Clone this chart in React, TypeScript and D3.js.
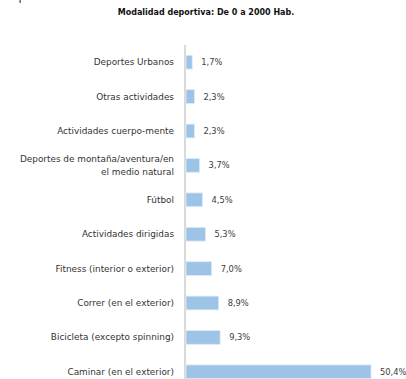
import React from "react";
import * as d3 from "d3";

const categories: string[][] = [
  ["Deportes Urbanos"],
  ["Otras actividades"],
  ["Actividades cuerpo-mente"],
  ["Deportes de montaña/aventura/en", "el medio natural"],
  ["Fútbol"],
  ["Actividades dirigidas"],
  ["Fitness (interior o exterior)"],
  ["Correr (en el exterior)"],
  ["Bicicleta (excepto spinning)"],
  ["Caminar (en el exterior)"],
];
const values: number[] = [1.7, 2.3, 2.3, 3.7, 4.5, 5.3, 7.0, 8.9, 9.3, 50.4];
const valueLabels: string[] = ["1,7%", "2,3%", "2,3%", "3,7%", "4,5%", "5,3%", "7,0%", "8,9%", "9,3%", "50,4%"];
const title = "Modalidad deportiva: De 0 a 2000 Hab.";

export default function App() {
  const W = 406, H = 379;
  const x0 = 185;
  const x = d3.scaleLinear().domain([0, 50.4]).range([x0, 370]);
  const idx = d3.range(values.length).map(String);
  const y = d3.scaleBand().domain(idx).range([45, 389]).paddingInner(0.6).paddingOuter(0.3);
  const font = "'DejaVu Sans', sans-serif";
  return (
    <svg width={W} height={H} style={{ position: "absolute", left: 0, top: 0, background: "#fff" }}>
      <rect x={19.5} y={0} width={1.2} height={3} fill="#444" />
      <text x={206} y={15} textAnchor="middle" fontSize={8} fontWeight="bold" fontFamily={font} fill="#111">{title}</text>
      <line x1={x0} x2={x0} y1={45} y2={H} stroke="#d9d9d9" strokeWidth={2} />
      {values.map((v, i) => {
        const yc = (y(String(i)) as number) + y.bandwidth() / 2;
        const lines = categories[i];
        const lh = 13;
        return (
          <g key={i}>
            <rect x={x0 + 1} y={y(String(i))} width={x(v) - x0} height={y.bandwidth()} fill="#9dc3e6" stroke="#deebf7" strokeWidth={0.8} />
            <text x={x(v) + 10} y={yc + 3} fontSize={8.3} fontFamily={font} fill="#404040">{valueLabels[i]}</text>
            {lines.map((l, j) => (
              <text key={j} x={174} y={yc + 3 + (j - (lines.length - 1) / 2) * lh} textAnchor="end" fontSize={8.9} fontFamily={font} fill="#333">{l}</text>
            ))}
          </g>
        );
      })}
    </svg>
  );
}
